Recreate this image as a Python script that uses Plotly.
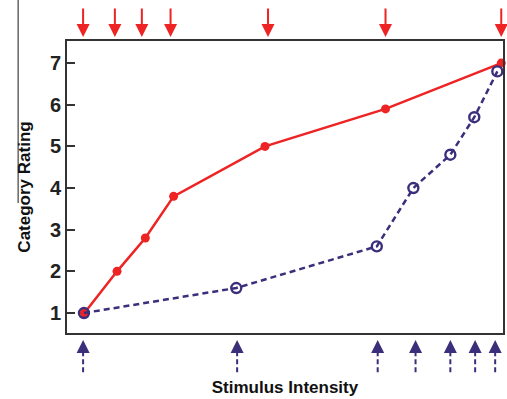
import plotly.graph_objects as go

red_x = [4, 11.5, 18, 24.5, 45.5, 73.2, 99.8]
red_y = [1, 2, 2.8, 3.8, 5, 5.9, 7]
red_arrow_x = [3.7, 11, 17.2, 23.8, 46.2, 73.2, 99.8]

blue_x = [3.9, 38.9, 71.2, 79.6, 88.1, 93.6, 98.9]
blue_y = [1, 1.6, 2.6, 4, 4.8, 5.7, 6.8]
blue_arrow_x = [3.7, 39.1, 71.4, 80.1, 88.1, 93.8, 98.4]

y_ticks = [1, 2, 3, 4, 5, 6, 7]

RED = "#ee2323"
BLUE = "#3b2f7c"

fig = go.Figure()
fig.add_trace(go.Scatter(x=red_x, y=red_y, mode="lines+markers",
                         line=dict(color=RED, width=2.5),
                         marker=dict(color=RED, size=9), cliponaxis=False,
                         showlegend=False))
fig.add_trace(go.Scatter(x=blue_x, y=blue_y, mode="lines+markers",
                         line=dict(color=BLUE, width=2.5, dash="6px,4px"),
                         marker=dict(color=BLUE, size=10, symbol="circle-open",
                                     line=dict(color=BLUE, width=2.4)),
                         cliponaxis=False, showlegend=False))

shapes = []
annotations = []
for xv in red_arrow_x:
    annotations.append(dict(x=xv, y=1.014, xref="x", yref="paper", ax=0, ay=-30,
                            showarrow=True, arrowhead=2, arrowsize=1.3, arrowwidth=2,
                            arrowcolor=RED, text=""))
for xv in blue_arrow_x:
    shapes.append(dict(type="line", xref="x", yref="paper", x0=xv, x1=xv,
                       y0=-0.134, y1=-0.04, line=dict(color=BLUE, width=2, dash="5px,3px")))
    annotations.append(dict(x=xv, y=-0.024, xref="x", yref="paper", ax=0, ay=10,
                            showarrow=True, arrowhead=2, arrowsize=1.3, arrowwidth=2,
                            arrowcolor=BLUE, text=""))
shapes.append(dict(type="line", xref="paper", yref="paper", x0=-0.112, x1=-0.112,
                   y0=1.14, y1=0.445, layer="above",
                   line=dict(color="#666666", width=1.5)))

fig.update_layout(
    width=507, height=399,
    margin=dict(l=67, r=2, t=41, b=66),
    plot_bgcolor="white", paper_bgcolor="white",
    font=dict(family="Liberation Sans, Arial", color="#222222"),
    shapes=shapes, annotations=annotations,
    xaxis=dict(range=[0, 100.2], showticklabels=False, ticks="", showgrid=False,
               zeroline=False, showline=True, linecolor="#333333", linewidth=2, mirror=True,
               title=dict(text="Stimulus Intensity",
                          font=dict(size=17, color="#111111", weight="bold"),
                          standoff=47)),
    yaxis=dict(range=[0.52, 7.53], tickvals=y_ticks, ticks="inside", ticklen=8, tickwidth=2,
               tickcolor="#333333", showgrid=False, zeroline=False, showline=True,
               linecolor="#333333", linewidth=2, mirror=True,
               tickfont=dict(size=20, color="#222222", family="Liberation Sans, Arial",
                             weight="bold"),
               title=dict(text="Category Rating",
                          font=dict(size=17, color="#111111", weight="bold"),
                          standoff=15)),
)
fig.write_html("out.html", config={"displayModeBar": False},
               post_script="document.body.style.margin='0';document.body.style.overflow='hidden';")
